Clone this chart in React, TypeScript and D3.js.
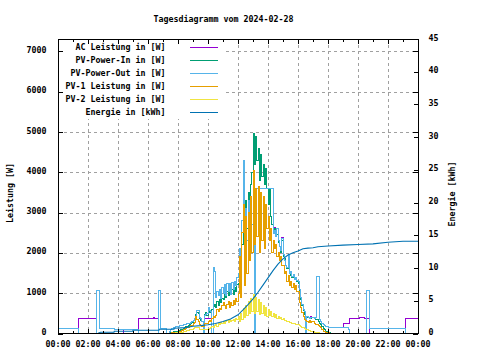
import React from "react";
import * as d3 from "d3";

const title = "Tagesdiagramm vom 2024-02-28";
const xTickLabels = ["00:00","02:00","04:00","06:00","08:00","10:00","12:00","14:00","16:00","18:00","20:00","22:00","00:00"];
const leftTicks = [0, 1000, 2000, 3000, 4000, 5000, 6000, 7000];
const rightTicks = [0, 5, 10, 15, 20, 25, 30, 35, 40, 45];
const leftLabel = "Leistung [W]";
const rightLabel = "Energie [kWh]";
const seriesNames = ["AC Leistung in [W]","PV-Power-In in [W]","PV-Power-Out in [W]","PV-1 Leistung in [W]","PV-2 Leistung in [W]","Energie in [kWh]"];
const seriesColors = ["#9400d3","#009e73","#56b4e9","#e69f00","#f0e442","#0072b2"];

// 5-minute samples, one row per hour (00:00 ... 23:55)
const acLeistung = [
  [0,0,0,0,0,0,0,0,0,0,0,0],
  [0,0,0,0,370,370,370,370,370,370,370,370],
  [370,370,370,370,370,370,370,0,0,0,0,0],
  [0,0,0,0,0,0,0,0,0,0,0,0],
  [110,110,110,110,0,0,0,0,0,0,0,0],
  [0,0,0,0,370,370,370,370,370,370,370,370],
  [370,370,370,370,400,370,370,370,0,0,0,0],
  [0,0,0,0,0,60,110,130,150,160,170,175],
  [180,190,200,210,215,220,230,240,250,260,280,300],
  [320,360,430,575,560,400,380,300,0,380,383,383],
  [383,383,383,383,1650,1550,900,1050,950,1100,880,1150],
  [1000,1220,950,1250,1050,1230,980,1260,1100,1300,1180,1380],
  [1500,2100,1400,2800,4300,2000,3100,2300,3300,2600,3000,2700],
  [3000,0,3590,3590,3590,3590,3590,3590,3590,3590,3590,3590],
  [3590,3590,3590,3590,2470,2620,2420,2600,2300,2150,2050,2380],
  [1950,1800,1700,1650,1970,1500,1550,1420,1470,1350,1400,1320],
  [1300,1090,900,720,600,550,420,420,400,380,430,390],
  [400,380,390,1425,1425,340,300,260,230,200,180,175],
  [150,150,150,150,150,150,150,150,150,150,150,150],
  [258,258,258,258,258,383,383,383,383,383,383,383],
  [383,400,400,400,400,383,383,383,383,0,0,0],
  [0,0,0,0,0,0,0,0,0,0,0,0],
  [0,0,0,0,0,0,0,0,0,0,0,0],
  [0,0,383,383,383,383,383,383,383,383,383,383],
];

const pvPowerIn = [
  [0,0,0,0,0,0,0,0,0,0,0,0],
  [0,0,0,0,0,0,0,0,0,0,0,0],
  [0,0,0,0,0,0,0,0,0,0,0,0],
  [0,0,0,0,0,0,0,0,0,0,0,0],
  [0,0,0,0,0,0,0,0,0,0,0,0],
  [0,0,0,0,0,0,0,0,0,0,0,0],
  [0,0,0,0,0,0,0,0,0,0,0,0],
  [0,0,0,0,0,10,20,30,40,50,50,60],
  [70,80,90,110,130,150,170,180,200,220,250,280],
  [320,380,460,510,500,380,330,300,260,480,510,450],
  [550,520,560,600,680,720,650,800,700,840,760,880],
  [850,1000,900,1050,950,1090,1000,1100,980,1150,1050,1220],
  [1250,1700,1450,2200,4300,2300,3300,2600,3500,3000,3700,4000],
  [4970,4200,4900,4300,4600,3800,4450,3900,4200,3700,4100,3600],
  [3200,3600,2900,2700,2550,2600,2400,2450,2250,2150,2000,2300],
  [1900,1850,1700,1620,1650,1500,1450,1380,1400,1330,1350,1300],
  [1250,1010,850,700,560,480,430,400,390,400,380,390],
  [390,380,350,340,300,260,220,180,130,90,60,40],
  [30,20,10,0,0,0,0,0,0,0,0,0],
  [0,0,0,0,0,0,0,0,0,0,0,0],
  [0,0,0,0,0,0,0,0,0,0,0,0],
  [0,0,0,0,0,0,0,0,0,0,0,0],
  [0,0,0,0,0,0,0,0,0,0,0,0],
  [0,0,0,0,0,0,0,0,0,0,0,0],
];

const pvPowerOut = [
  [120,120,120,120,120,120,120,120,120,120,120,120],
  [120,120,120,120,0,0,0,0,0,0,0,0],
  [0,0,0,0,0,0,0,1070,1070,120,120,120],
  [120,120,120,120,120,120,120,120,120,90,90,90],
  [90,90,90,90,90,90,90,90,90,90,90,90],
  [90,90,90,90,0,0,0,0,0,0,0,0],
  [0,0,0,0,0,0,0,0,1070,1070,120,120],
  [120,120,120,0,0,60,110,130,150,160,170,175],
  [180,190,200,210,215,220,230,240,250,260,280,300],
  [320,360,430,575,560,400,380,300,0,450,480,500],
  [640,580,550,0,1650,1550,900,1050,950,1100,880,1150],
  [1000,1220,950,1250,1050,1230,980,1260,1100,1300,1180,1380],
  [1500,2100,1400,2800,4300,2000,3100,2300,3300,2600,3000,2700],
  [3000,0,3590,3590,3590,3590,3590,3590,3590,3590,3590,3590],
  [3590,3590,3590,3590,2470,2550,2420,2600,2300,2150,2050,2350],
  [1950,1800,1700,1650,1970,1500,1550,1420,1470,1350,1400,1320],
  [1300,1090,900,720,600,550,0,420,400,380,400,390],
  [400,380,390,1425,1425,340,300,260,230,200,180,175],
  [150,150,150,150,150,150,150,150,150,150,150,150],
  [150,150,150,150,110,0,0,0,0,0,0,0],
  [0,0,0,0,0,0,0,1075,1075,130,130,130],
  [130,130,130,130,130,130,130,130,130,130,130,130],
  [130,130,130,130,130,130,130,130,130,130,130,130],
  [130,130,0,0,0,0,0,0,0,0,0,0],
];

const pv1Leistung = [
  [0,0,0,0,0,0,0,0,0,0,0,0],
  [0,0,0,0,0,0,0,0,0,0,0,0],
  [0,0,0,0,0,0,0,0,0,0,0,0],
  [0,0,0,0,0,0,0,0,0,0,0,0],
  [0,0,0,0,0,0,0,0,0,0,0,0],
  [0,0,0,0,0,0,0,0,0,0,0,0],
  [0,0,0,0,0,0,0,0,0,0,0,0],
  [0,0,0,0,0,5,10,15,20,25,30,35],
  [40,50,60,70,90,110,120,140,160,175,190,210],
  [240,280,430,350,300,220,200,175,180,250,260,240],
  [300,330,300,380,430,400,450,600,550,630,600,700],
  [760,700,630,720,800,650,760,700,820,720,880,800],
  [1000,1900,900,2500,3200,1200,2900,1500,3000,1800,3400,2000],
  [4050,2200,3600,2400,3650,2000,3500,2300,3400,2100,3200,2600],
  [2900,2300,2600,2000,2300,2100,2200,1900,2000,1800,1900,1700],
  [1700,1500,1550,1300,1450,1200,1300,1150,1250,1100,1200,1050],
  [1050,760,640,510,420,340,330,300,280,320,270,300],
  [300,260,230,220,200,170,140,100,60,40,20,15],
  [15,12,10,10,8,6,5,5,0,0,0,0],
  [0,0,0,0,0,0,0,0,0,0,0,0],
  [0,0,0,0,0,0,0,0,0,0,0,0],
  [0,0,0,0,0,0,0,0,0,0,0,0],
  [0,0,0,0,0,0,0,0,0,0,0,0],
  [0,0,0,0,0,0,0,0,0,0,0,0],
];

const pv2Leistung = [
  [0,0,0,0,0,0,0,0,0,0,0,0],
  [0,0,0,0,0,0,0,0,0,0,0,0],
  [0,0,0,0,0,0,0,0,0,0,0,0],
  [0,0,0,0,0,0,0,0,0,0,0,0],
  [0,0,0,0,0,0,0,0,0,0,0,0],
  [0,0,0,0,0,0,0,0,0,0,0,0],
  [0,0,0,0,0,0,0,0,0,0,0,0],
  [0,0,0,0,0,0,5,8,10,12,15,18],
  [20,25,30,35,40,45,55,65,80,95,100,110],
  [120,140,150,160,140,110,100,95,90,95,100,100],
  [110,130,150,175,160,200,220,180,260,230,270,250],
  [300,260,290,320,280,340,300,330,350,310,380,340],
  [430,300,500,350,630,400,700,450,800,500,870,550],
  [967,500,900,550,840,480,760,500,700,450,650,420],
  [600,450,550,420,500,400,460,380,420,370,400,350],
  [380,330,320,300,300,280,280,260,250,240,230,220],
  [220,200,180,160,140,120,100,90,80,70,60,50],
  [40,30,25,20,15,10,5,3,0,0,0,0],
  [0,0,0,0,0,0,0,0,0,0,0,0],
  [0,0,0,0,0,0,0,0,0,0,0,0],
  [0,0,0,0,0,0,0,0,0,0,0,0],
  [0,0,0,0,0,0,0,0,0,0,0,0],
  [0,0,0,0,0,0,0,0,0,0,0,0],
  [0,0,0,0,0,0,0,0,0,0,0,0],
];

// cumulative energy [time, kWh]
const energie: [string, number][] = [
  ["00:00",0],["02:35",0],["02:40",0.05],["02:50",0.2],["03:44",0.2],["03:45",0.35],
  ["04:59",0.35],["05:00",0.5],["06:44",0.5],["06:45",0.66],["07:44",0.66],["07:45",0.8],
  ["08:30",0.9],["09:00",1.1],["09:30",1.2],["10:00",1.33],["10:30",1.54],["11:00",1.84],
  ["11:30",2.2],["12:00",2.85],["12:20",3.6],["12:40",4.4],["13:00",5.3],["13:20",6.3],
  ["13:40",7.4],["14:00",8.5],["14:20",9.6],["14:40",10.6],["15:00",11.4],["15:20",12.0],
  ["15:40",12.35],["16:00",12.6],["16:20",12.95],["16:40",13.05],["17:00",13.1],["17:20",13.25],
  ["18:00",13.36],["19:00",13.5],["20:00",13.6],["21:00",13.7],["22:00",13.95],["23:00",14.1],["24:00",14.1],
];

const FONT = "'DejaVu Sans Mono', monospace";
const FS = 8.3;
const L = 58, R = 418, T = 39, B = 333.5;

const x = d3.scaleLinear().domain([0, 1440]).range([L, R]);
const yL = d3.scaleLinear().domain([0, 7310]).range([B, T]);
const yR = d3.scaleLinear().domain([0, 45]).range([B, T]);

function toMin(s: string) {
  const [h, m] = s.split(":").map(Number);
  return h * 60 + m;
}

function stepPath(rows: number[][]) {
  const vals = rows.flat();
  const pts: [number, number][] = vals.map((v, i) => [i * 5, v]);
  pts.push([1440, vals[vals.length - 1]]);
  return d3.line<[number, number]>().x(d => x(d[0])).y(d => yL(d[1])).curve(d3.curveStepAfter)(pts) || "";
}

export default function App() {
  const energyPath = d3.line<[string, number]>().x(d => x(toMin(d[0]))).y(d => yR(d[1]))(energie) || "";
  const series = [acLeistung, pvPowerIn, pvPowerOut, pv1Leistung, pv2Leistung];
  const hours = d3.range(0, 25);
  const legendY = (i: number) => 46.7 + i * 13.1;
  const grey = "#a0a0a0";
  return (
    <svg width={480} height={360} style={{ position: "absolute", left: 0, top: 0, background: "#fff" }}
      fontFamily={FONT} fontSize={FS} fontWeight="bold">
      <rect x={0} y={0} width={480} height={360} fill="#fff" />
      <text x={223.5} y={18.5} textAnchor="middle" dominantBaseline="central">{title}</text>
      {/* grid */}
      <g stroke={grey} strokeDasharray="3,3" shapeRendering="crispEdges">
        {leftTicks.filter(t => t > 0).map(t => (
          <line key={"h" + t} x1={L} x2={R} y1={Math.round(yL(t)) + 0.5} y2={Math.round(yL(t)) + 0.5} />
        ))}
        {xTickLabels.map((_, i) => i).filter(i => i > 0 && i < 12).map(i => (
          <line key={"v" + i} x1={Math.round(x(i * 120)) + 0.5} x2={Math.round(x(i * 120)) + 0.5} y1={T} y2={B} />
        ))}
      </g>
      {/* data */}
      {series.map((rows, i) => (
        <path key={i} d={stepPath(rows)} fill="none" stroke={seriesColors[i]} strokeWidth={1} shapeRendering="crispEdges" />
      ))}
      <path d={energyPath} fill="none" stroke={seriesColors[5]} strokeWidth={1.1} />
      {/* legend */}
      <rect x={L + 1} y={T + 1} width={165} height={79} fill="#fff" />
      {seriesNames.map((n, i) => (
        <g key={n}>
          <text x={165.5} y={legendY(i)} textAnchor="end" dominantBaseline="central">{n}</text>
          <line x1={190} x2={218} y1={Math.round(legendY(i)) + 0.5} y2={Math.round(legendY(i)) + 0.5} stroke={seriesColors[i]} strokeWidth={1} shapeRendering="crispEdges" />
        </g>
      ))}
      {/* border and ticks */}
      <g stroke="#000" shapeRendering="crispEdges" fill="none">
        <rect x={L + 0.5} y={T + 0.5} width={R - L} height={B - T - 0.5} />
        {leftTicks.map(t => {
          const yy = Math.round(yL(t)) + 0.5;
          return <g key={"lt" + t}><line x1={L} x2={L + 5} y1={yy} y2={yy} /><line x1={R - 5} x2={R} y1={yy} y2={yy} /></g>;
        })}
        {rightTicks.map(t => {
          const yy = Math.round(yR(t)) + 0.5;
          return <line key={"rt" + t} x1={R - 4} x2={R} y1={yy} y2={yy} />;
        })}
        {hours.map(h => {
          const xx = Math.round(x(h * 60)) + 0.5;
          const len = h % 2 === 0 ? 5 : 2.5;
          return <g key={"xt" + h}><line x1={xx} x2={xx} y1={B} y2={B - len} /><line x1={xx} x2={xx} y1={T} y2={T + len} /></g>;
        })}
      </g>
      {/* tick labels */}
      {leftTicks.map(t => (
        <text key={"ll" + t} x={46.5} y={yL(t) - 1.5} textAnchor="end" dominantBaseline="central">{t}</text>
      ))}
      {rightTicks.map(t => (
        <text key={"rl" + t} x={428.5} y={yR(t) - 1.5} textAnchor="start" dominantBaseline="central">{t}</text>
      ))}
      {xTickLabels.map((s, i) => (
        <text key={"xl" + i} x={x(i * 120)} y={344} textAnchor="middle" dominantBaseline="central">{s}</text>
      ))}
      <text transform="translate(9.5,193) rotate(-90)" textAnchor="middle" dominantBaseline="central">{leftLabel}</text>
      <text transform="translate(452,194) rotate(-90)" textAnchor="middle" dominantBaseline="central">{rightLabel}</text>
    </svg>
  );
}
